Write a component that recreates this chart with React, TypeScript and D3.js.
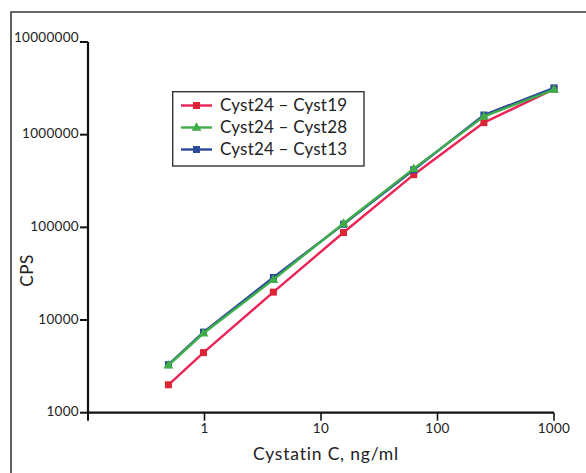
import React from "react";
import * as d3 from "d3";

const concentrations = [0.49, 0.98, 3.9, 15.6, 62.5, 250, 1000];
const cyst19 = [2000, 4450, 20000, 88000, 370000, 1350000, 3100000];
const cyst28 = [3250, 7200, 27300, 110000, 430000, 1570000, 3070000];
const cyst13 = [3300, 7400, 28800, 108000, 418000, 1630000, 3200000];
const yTicks = [1000, 10000, 100000, 1000000, 10000000];
const xTicks = [1, 10, 100, 1000];
const seriesNames = ["Cyst24 – Cyst19", "Cyst24 – Cyst28", "Cyst24 – Cyst13"];

const FONT = "Lato, 'Open Sans', sans-serif";

export default function App() {
  const x = d3.scaleLog().domain([0.1, 1000]).range([88, 554]);
  const y = d3.scaleLog().domain([1000, 10000000]).range([412.7, 42]);

  const series = [
    { name: seriesNames[0], values: cyst19, line: "#ea2457", marker: "#dc2434", shape: "square" },
    { name: seriesNames[2], values: cyst13, line: "#2c4a9c", marker: "#2c4a9c", shape: "square" },
    { name: seriesNames[1], values: cyst28, line: "#3fae4a", marker: "#3fae4a", shape: "triangle" },
  ];
  const legendOrder = [series[0], series[2], series[1]];

  const lineGen = (vals: number[]) =>
    d3.line<number>()
      .x((_, i) => x(concentrations[i]))
      .y((v) => y(v))(vals) || "";

  const tri = d3.symbol().type(d3.symbolTriangle).size(42)() || "";

  const marker = (shape: string, cx: number, cy: number, color: string, key: string) =>
    shape === "square" ? (
      <rect key={key} x={cx - 3.5} y={cy - 3.5} width={7} height={7} fill={color} />
    ) : (
      <path key={key} d={tri} transform={`translate(${cx},${cy + 0.5})`} fill={color} />
    );

  return (
    <svg width={586} height={473} style={{ position: "absolute", left: 0, top: 0 }}>
      <rect x={0} y={0} width={586} height={473} fill="#fff" />
      <path d="M11,480 L11,12 L590,12" fill="none" stroke="#3a3a3a" strokeWidth={1.6} />

      {/* axes */}
      <line x1={88} y1={y(10000000)} x2={88} y2={y(1000)} stroke="#111" strokeWidth={2.2} />
      <line x1={88} y1={y(1000)} x2={x(1000)} y2={y(1000)} stroke="#111" strokeWidth={2.2} />
      <line x1={88} y1={y(1000)} x2={88} y2={y(1000) + 8} stroke="#111" strokeWidth={2} />
      {yTicks.map((t, i) => (
        <g key={t}>
          <line x1={80} x2={88} y1={y(t)} y2={y(t)} stroke="#111" strokeWidth={2} />
          <text
            x={79}
            y={y(t) - (i === yTicks.length - 1 ? 0 : 1)}
            dy={i === yTicks.length - 1 ? "0" : "0.35em"}
            textAnchor="end"
            fontFamily={FONT}
            fontSize={13.5}
            letterSpacing={0.3}
            fill="#222"
          >
            {String(t)}
          </text>
        </g>
      ))}
      {xTicks.map((t) => (
        <g key={t}>
          <line x1={x(t)} x2={x(t)} y1={y(1000)} y2={y(1000) + 8} stroke="#111" strokeWidth={1.6} />
          <text x={x(t)} y={y(1000) + 20} textAnchor="middle" fontFamily={FONT} fontSize={13.5} letterSpacing={0.3} fill="#222">
            {String(t)}
          </text>
        </g>
      ))}
      <text x={326} y={460} textAnchor="middle" fontFamily={FONT} fontSize={17.5} letterSpacing={0.8} fill="#222">
        Cystatin C, ng/ml
      </text>
      <text
        transform="translate(32.5,270.5) rotate(-90)"
        textAnchor="middle"
        fontFamily={FONT}
        fontSize={17}
        letterSpacing={0.5}
        fill="#222"
      >
        CPS
      </text>

      {/* series */}
      {series.map((s) => (
        <g key={s.name}>
          <path d={lineGen(s.values)} fill="none" stroke={s.line} strokeWidth={2.4} />
          {s.values.map((v, i) => marker(s.shape, x(concentrations[i]), y(v), s.marker, `${s.name}-${i}`))}
        </g>
      ))}

      {/* legend */}
      <rect x={172.7} y={91.7} width={191.3} height={74.3} fill="#fff" stroke="#333" strokeWidth={1.4} />
      {legendOrder.map((s, i) => {
        const ly = 105.5 + i * 22;
        return (
          <g key={s.name}>
            <line x1={181} x2={212} y1={ly} y2={ly} stroke={s.line} strokeWidth={2.4} />
            {marker(s.shape, 196.5, ly, s.marker, `leg-${i}`)}
            <text x={220} y={ly} dy="0.35em" fontFamily={FONT} fontSize={17} letterSpacing={0.2} fill="#222">
              {s.name}
            </text>
          </g>
        );
      })}
    </svg>
  );
}
